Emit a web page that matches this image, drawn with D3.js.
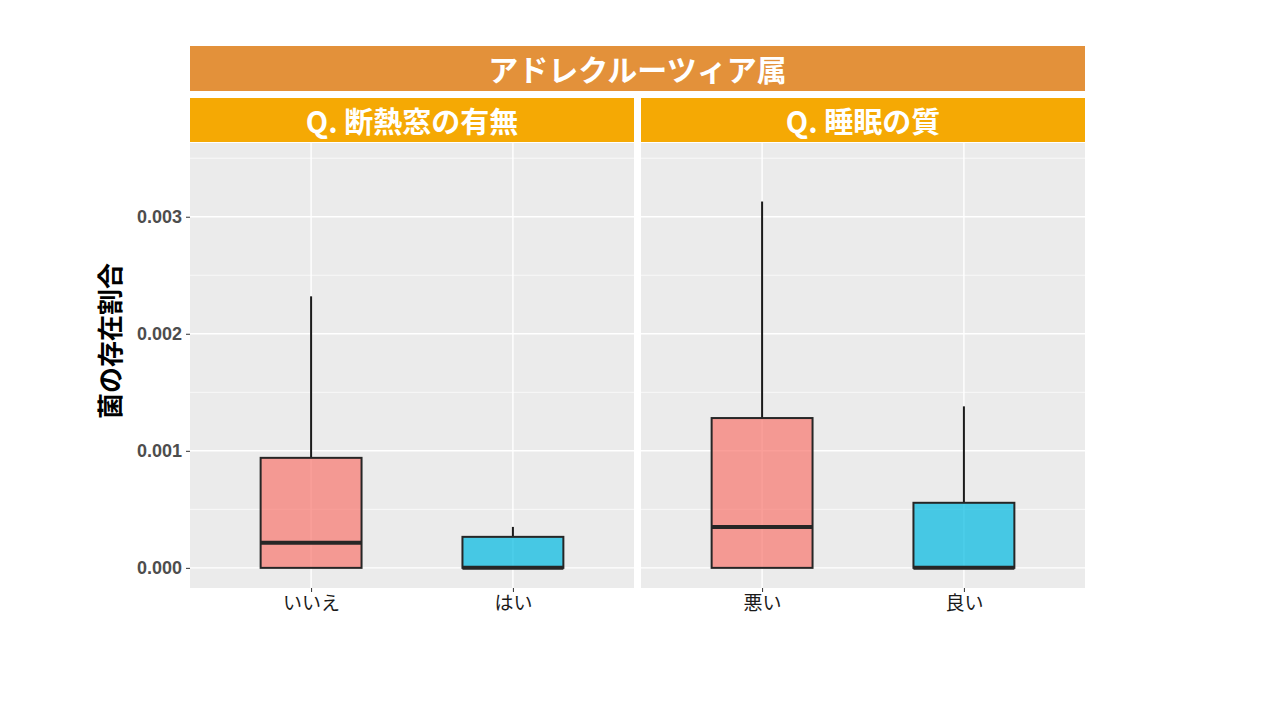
<!DOCTYPE html>
<html>
<head>
<meta charset="utf-8">
<script src="https://cdn.jsdelivr.net/npm/d3@7"></script>
<style>
  body { margin: 0; background: #fff; }
  text { font-family: "Noto Sans CJK JP", "Noto Sans", sans-serif; }
</style>
</head>
<body>
<div id="chart"></div>
<script>
'use strict'

// data
const title = 'アドレクルーツィア属';
const panels = ['Q. 断熱窓の有無', 'Q. 睡眠の質'];
const categories = [['いいえ', 'はい'], ['悪い', '良い']];
const boxMin = [[0, 0], [0, 0]];
const boxQ1 = [[0, 0], [0, 0]];
const boxMedian = [[0.000215, 0.0], [0.00035, 0.0]];
const boxQ3 = [[0.00094, 0.000265], [0.00128, 0.000556]];
const boxMax = [[0.00232, 0.00035], [0.00313, 0.00138]];
const yTicks = [0, 0.001, 0.002, 0.003];
const yMinor = [0.0005, 0.0015, 0.0025, 0.0035];
const fills = ['#F8766D', '#00B9E1'];

const width = 1280;
const height = 720;

const svg = d3.select('#chart').append('svg')
  .attr('width', width)
  .attr('height', height);

const left = 190;
const right = 1085;
const gap = 7;
const panelTop = 143;
const panelBottom = 588;
const panelW = (right - left - gap) / 2;

const y = d3.scaleLinear()
  .domain([-0.000172, 0.00363])
  .range([panelBottom, panelTop]);

// top strip
svg.append('rect')
  .attr('x', left).attr('y', 46)
  .attr('width', right - left).attr('height', 45)
  .attr('fill', '#E3913A');

svg.append('text')
  .attr('x', (left + right) / 2).attr('y', 68)
  .attr('text-anchor', 'middle')
  .attr('dominant-baseline', 'central')
  .attr('fill', '#fff')
  .attr('font-size', 30)
  .attr('font-weight', 'bold')
  .text(title);

panels.forEach((p, pi) => {
  const px = left + pi * (panelW + gap);

  const x = d3.scalePoint()
    .domain(categories[pi])
    .range([px, px + panelW])
    .padding(0.6);

  // strip
  svg.append('rect')
    .attr('x', px).attr('y', 98)
    .attr('width', panelW).attr('height', 44)
    .attr('fill', '#F5A904');

  svg.append('text')
    .attr('x', px + panelW / 2).attr('y', 120)
    .attr('text-anchor', 'middle')
    .attr('dominant-baseline', 'central')
    .attr('fill', '#fff')
    .attr('font-size', 29)
    .attr('font-weight', 'bold')
    .text(p);

  // panel background
  svg.append('rect')
    .attr('x', px).attr('y', panelTop)
    .attr('width', panelW).attr('height', panelBottom - panelTop)
    .attr('fill', '#EBEBEB');

  const g = svg.append('g');

  g.selectAll('.minor')
    .data(yMinor)
    .join('line')
    .attr('x1', px).attr('x2', px + panelW)
    .attr('y1', d => y(d)).attr('y2', d => y(d))
    .attr('stroke', '#fff').attr('stroke-width', 0.7);

  g.selectAll('.major')
    .data(yTicks)
    .join('line')
    .attr('x1', px).attr('x2', px + panelW)
    .attr('y1', d => y(d)).attr('y2', d => y(d))
    .attr('stroke', '#fff').attr('stroke-width', 1.4);

  g.selectAll('.vgrid')
    .data(categories[pi])
    .join('line')
    .attr('x1', d => x(d)).attr('x2', d => x(d))
    .attr('y1', panelTop).attr('y2', panelBottom)
    .attr('stroke', '#fff').attr('stroke-width', 1.4);

  // x axis ticks + labels
  const xAxis = svg.append('g')
    .attr('transform', `translate(0,${panelBottom})`)
    .call(d3.axisBottom(x).tickSize(4).tickPadding(5));
  xAxis.select('.domain').remove();
  xAxis.selectAll('.tick line').attr('stroke', '#333');
  xAxis.selectAll('.tick text')
    .attr('font-size', 19)
    .attr('fill', '#1a1a1a')
    .style('font-family', '"Noto Sans CJK JP", sans-serif');

  const bw = x.step() * 0.5;

  const boxes = categories[pi].map((c, i) => ({
    cat: c, i: i,
    min: boxMin[pi][i], q1: boxQ1[pi][i], med: boxMedian[pi][i],
    q3: boxQ3[pi][i], max: boxMax[pi][i]
  }));

  const bg = g.selectAll('.box')
    .data(boxes)
    .join('g');

  // whiskers
  bg.append('line')
    .attr('x1', d => x(d.cat)).attr('x2', d => x(d.cat))
    .attr('y1', d => y(d.q3)).attr('y2', d => y(d.max))
    .attr('stroke', '#1a1a1a').attr('stroke-width', 2);

  bg.append('line')
    .attr('x1', d => x(d.cat)).attr('x2', d => x(d.cat))
    .attr('y1', d => y(d.q1)).attr('y2', d => y(d.min))
    .attr('stroke', '#1a1a1a').attr('stroke-width', 2);

  bg.append('rect')
    .attr('x', d => x(d.cat) - bw / 2)
    .attr('y', d => y(d.q3))
    .attr('width', bw)
    .attr('height', d => y(d.q1) - y(d.q3))
    .attr('fill', d => fills[d.i])
    .attr('fill-opacity', 0.7)
    .attr('stroke', '#262626')
    .attr('stroke-width', 2);

  bg.append('line')
    .attr('x1', d => x(d.cat) - bw / 2).attr('x2', d => x(d.cat) + bw / 2)
    .attr('y1', d => y(d.med)).attr('y2', d => y(d.med))
    .attr('stroke', '#262626').attr('stroke-width', 4);
});

// y axis
const yAxis = svg.append('g')
  .attr('transform', `translate(${left},0)`)
  .call(d3.axisLeft(y).tickValues(yTicks).tickFormat(d3.format('.3f')).tickSize(4).tickPadding(4));
yAxis.select('.domain').remove();
yAxis.selectAll('.tick line').attr('stroke', '#333');
yAxis.selectAll('.tick text')
  .attr('font-size', 18)
  .attr('font-weight', 'bold')
  .attr('fill', '#4D4D4D')
  .style('font-family', '"Liberation Sans", "Noto Sans", sans-serif');

svg.append('text')
  .attr('transform', `translate(108,341) rotate(-90)`)
  .attr('text-anchor', 'middle')
  .attr('dominant-baseline', 'central')
  .attr('font-size', 26)
  .attr('font-weight', 'bold')
  .attr('fill', '#000')
  .text('菌の存在割合');
</script>
</body>
</html>
